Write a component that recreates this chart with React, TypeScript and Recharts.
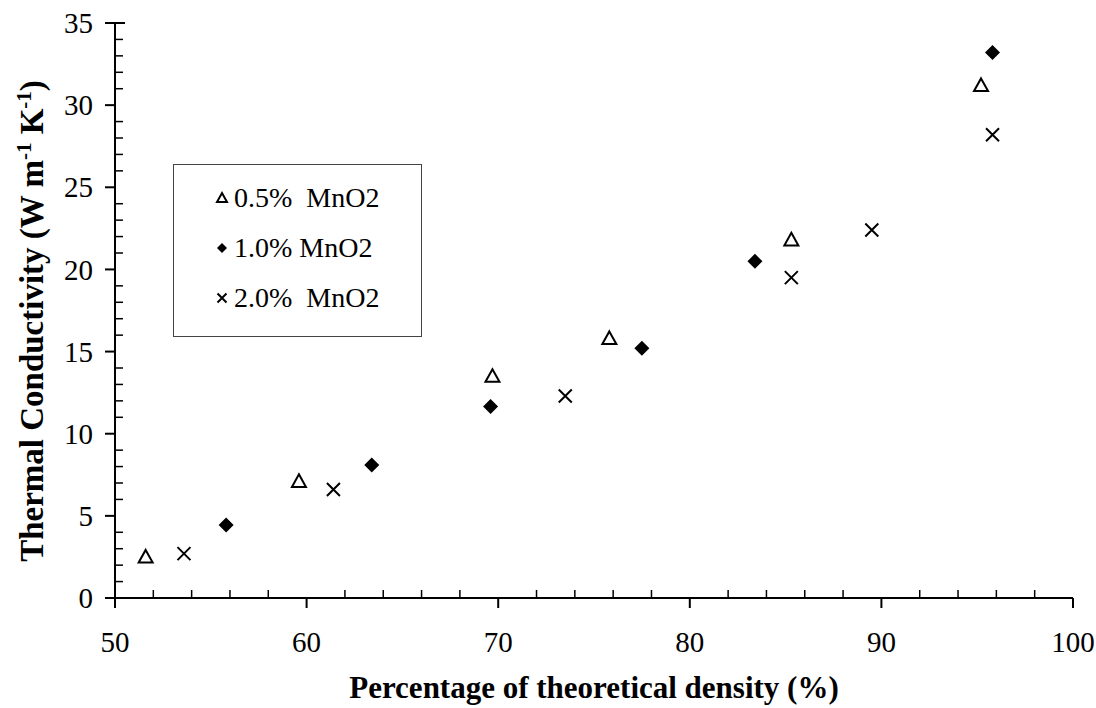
import {
  ScatterChart, Scatter, XAxis, YAxis, Legend, Label
} from "recharts"

// values: [density %, conductivity]
const density05 = [51.6, 59.6, 69.7, 75.8, 85.3, 95.2]
const conductivity05 = [2.5, 7.1, 13.5, 15.8, 21.8, 31.2]

const density10 = [55.8, 63.4, 69.6, 77.5, 83.4, 95.8]
const conductivity10 = [4.45, 8.1, 11.65, 15.2, 20.5, 33.2]

const density20 = [53.6, 61.4, 73.5, 85.3, 89.5, 95.8]
const conductivity20 = [2.7, 6.6, 12.3, 19.5, 22.4, 28.2]

const seriesNames = ["0.5%  MnO2", "1.0% MnO2", "2.0%  MnO2"]

const xTicks = [50, 52, 54, 56, 58, 60, 62, 64, 66, 68, 70, 72, 74, 76, 78, 80,
  82, 84, 86, 88, 90, 92, 94, 96, 98, 100]
const yTicks = [0, 1, 2, 3, 4, 5, 6, 7, 8, 9, 10, 11, 12, 13, 14, 15, 16, 17,
  18, 19, 20, 21, 22, 23, 24, 25, 26, 27, 28, 29, 30, 31, 32, 33, 34, 35]

const FONT = "'Liberation Serif', 'Times New Roman', serif"

const toPoints = (xs: number[], ys: number[]) =>
  xs.map((x, i) => ({ density: x, k: ys[i] }))

const data05 = toPoints(density05, conductivity05)
const data10 = toPoints(density10, conductivity10)
const data20 = toPoints(density20, conductivity20)

function Triangle({ cx, cy, r = 7 }: any) {
  return (
    <path
      d={`M${cx},${cy - r} L${cx + r},${cy + r * 0.8} L${cx - r},${cy + r * 0.8} Z`}
      fill="#fff" stroke="#000" strokeWidth={2} strokeLinejoin="miter"
    />
  )
}

function Diamond({ cx, cy, r = 7.5 }: any) {
  return (
    <path
      d={`M${cx},${cy - r} L${cx + r},${cy} L${cx},${cy + r} L${cx - r},${cy} Z`}
      fill="#000"
    />
  )
}

function Cross({ cx, cy, r = 6.5 }: any) {
  return (
    <path
      d={`M${cx - r},${cy - r} L${cx + r},${cy + r} M${cx + r},${cy - r} L${cx - r},${cy + r}`}
      stroke="#000" strokeWidth={2} fill="none"
    />
  )
}

function XTick({ x, y, payload }: any) {
  const v = payload.value
  const major = v % 10 === 0
  return (
    <g>
      {major
        ? <line x1={x} x2={x} y1={y} y2={y + 10} stroke="#000" strokeWidth={2} />
        : <line x1={x} x2={x} y1={y} y2={y - 8} stroke="#000" strokeWidth={1.5} />}
      {major && (
        <text x={x} y={y + 54} textAnchor="middle" fontSize={29}
          fontFamily={FONT} fill="#000">{v}</text>
      )}
    </g>
  )
}

function YTick({ x, y, payload }: any) {
  const v = payload.value
  const major = v % 5 === 0
  return (
    <g>
      {major
        ? <line x1={x - 10} x2={v === 35 ? x + 10 : x} y1={y} y2={y} stroke="#000" strokeWidth={2} />
        : <line x1={x} x2={x + 8} y1={y} y2={y} stroke="#000" strokeWidth={1.5} />}
      {major && (
        <text x={x - 22} y={y} dy="0.35em" textAnchor="end" fontSize={29}
          fontFamily={FONT} fill="#000">{v}</text>
      )}
    </g>
  )
}

function LegendBox() {
  const icons = [
    <Triangle cx={8} cy={8} r={5} />,
    <Diamond cx={8} cy={8} r={5} />,
    <Cross cx={8} cy={8} r={4.5} />,
  ]
  return (
    <div style={{
      width: "100%", height: "100%", boxSizing: "border-box",
      border: "1.5px solid #444", background: "#fff", paddingTop: 8,
      fontFamily: FONT, fontSize: 28, color: "#000"
    }}>
      {seriesNames.map((name, i) => (
        <div key={name} style={{ height: 50, display: "flex", alignItems: "center" }}>
          <svg width={16} height={16} style={{ marginLeft: 40 }}>{icons[i]}</svg>
          <span style={{ marginLeft: 4, whiteSpace: "pre" }}>{name}</span>
        </div>
      ))}
    </div>
  )
}

export default function App() {
  return (
    <div style={{
      position: "fixed", left: 0, top: 0, width: 1096, height: 708,
      overflow: "hidden", background: "#fff"
    }}>
      <ScatterChart width={1096} height={708}
        margin={{ top: 23, right: 23, bottom: 50, left: 55 }}>
        <XAxis
          type="number" dataKey="density" domain={[50, 100]} ticks={xTicks}
          height={60} tickSize={0} tickMargin={0} tickLine={false}
          axisLine={{ stroke: "#000", strokeWidth: 2 }} tick={<XTick />}
          interval={0} allowDataOverflow
        >
          <Label content={() => (
            <text x={594} y={698} textAnchor="middle" fontSize={31} fontWeight="bold"
              fontFamily={FONT} fill="#000">Percentage of theoretical density (%)</text>
          )} />
        </XAxis>
        <YAxis
          type="number" dataKey="k" domain={[0, 35]} ticks={yTicks}
          width={60} tickSize={0} tickMargin={0} tickLine={false}
          axisLine={{ stroke: "#000", strokeWidth: 2 }} tick={<YTick />}
          interval={0} allowDataOverflow
        >
          <Label content={() => (
            <text x={43} y={321} transform="rotate(-90 43 321)" textAnchor="middle"
              fontSize={33} fontWeight="bold" fontFamily={FONT} fill="#000">
              Thermal Conductivity (W m<tspan dy={-12} fontSize={21}>-1</tspan>
              <tspan dy={12}> K</tspan><tspan dy={-12} fontSize={21}>-1</tspan>
              <tspan dy={12}>)</tspan>
            </text>
          )} />
        </YAxis>
        <Legend
          layout="vertical" align="center" verticalAlign="middle"
          content={<LegendBox />}
          wrapperStyle={{ left: 173, top: 164, width: 249, height: 173 }}
        />
        <Scatter name={seriesNames[0]} data={data05} shape={<Triangle />} isAnimationActive={false} />
        <Scatter name={seriesNames[1]} data={data10} shape={<Diamond />} isAnimationActive={false} />
        <Scatter name={seriesNames[2]} data={data20} shape={<Cross />} isAnimationActive={false} />
      </ScatterChart>
    </div>
  )
}
